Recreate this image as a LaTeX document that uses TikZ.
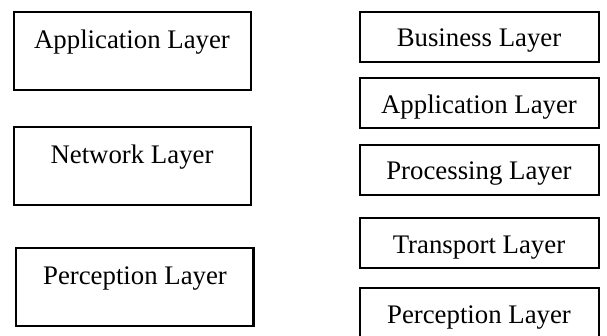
\documentclass[tikz,border=0pt]{standalone}
\usepackage{fontspec}
\setmainfont{Liberation Serif}
\tikzset{
  lbox/.style={draw, line width=1pt, inner sep=0pt, outer sep=0pt, anchor=north west,
    minimum width=118.5pt, minimum height=39pt, text height=18.25pt, text depth=20.75pt,
    font=\fontsize{13.4}{16}\selectfont},
  rbox/.style={draw, line width=1pt, inner sep=0pt, outer sep=0pt, anchor=north west,
    minimum width=119.5pt, minimum height=25pt, text height=17.5pt, text depth=7.5pt,
    font=\fontsize{13.4}{16}\selectfont}
}
\begin{document}
\begin{tikzpicture}[x=0.5pt,y=-0.5pt]
\useasboundingbox (0,0) rectangle (607,336);
\node[lbox] (lay0) at (13.5,12){Application Layer};
\node[lbox] (lay1) at (13.5,127){Network Layer};
\node[lbox] (lay2) at (16.5,248.5){Perception Layer};
\node[rbox] (rlay0) at (359.5,12){Business Layer};
\node[rbox] (rlay1) at (359.5,78.5){Application Layer};
\node[rbox] (rlay2) at (359.5,145){Processing Layer};
\node[rbox] (rlay3) at (359.5,218.5){Transport Layer};
\node[rbox] (rlay4) at (359.5,288.5){Perception Layer};

\end{tikzpicture}
\end{document}
